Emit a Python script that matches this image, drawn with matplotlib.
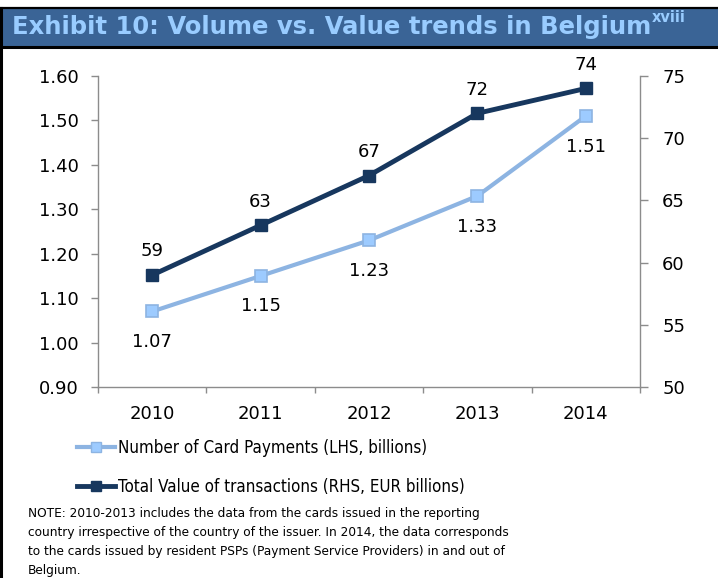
import matplotlib
matplotlib.use("Agg")
import matplotlib.pyplot as plt
from matplotlib import font_manager as fm
from matplotlib.lines import Line2D
from matplotlib.patches import Rectangle

# ---- data ----
years = ["2010", "2011", "2012", "2013", "2014"]
card_payments = [1.07, 1.15, 1.23, 1.33, 1.51]      # LHS, billions
transaction_value = [59, 63, 67, 72, 74]            # RHS, EUR billions
left_ticks = [0.90, 1.00, 1.10, 1.20, 1.30, 1.40, 1.50, 1.60]
right_ticks = [50, 55, 60, 65, 70, 75]

title_main = "Exhibit 10: Volume vs. Value trends in Belgium"
title_sup = "xviii"
series_names = ["Number of Card Payments (LHS, billions)",
                "Total Value of transactions (RHS, EUR billions)"]
note_lines = [
    "NOTE: 2010-2013 includes the data from the cards issued in the reporting",
    "country irrespective of the country of the issuer. In 2014, the data corresponds",
    "to the cards issued by resident PSPs (Payment Service Providers) in and out of",
    "Belgium.",
]

# ---- styling ----
W, H = 718, 578
DARK = "#17375E"
LIGHT = "#8DB4E2"
LIGHT_FILL = "#9DCBFF"
AXIS = "#8C8C8C"
BAND = "#3A6496"
TITLE_TXT = "#99CCFF"

names = {f.name for f in fm.fontManager.ttflist}
if "Liberation Sans Narrow" in names:
    narrow = dict(family="Liberation Sans Narrow")
else:
    narrow = dict(family="DejaVu Sans", stretch="condensed")

plt.rcParams["font.family"] = ["DejaVu Sans"]

fig = plt.figure(figsize=(W / 100, H / 100), dpi=100)


def fx(px):
    return px / W


def fy(py):
    return 1 - py / H


# title band and frame
fig.patches.append(Rectangle((0, fy(46)), 1, fy(9) - fy(46), transform=fig.transFigure,
                             facecolor=BAND, edgecolor="none", zorder=0))
fig.add_artist(Line2D([0, 1], [fy(8), fy(8)], color="black", lw=1.6, transform=fig.transFigure))
fig.add_artist(Line2D([0, 1], [fy(46.5), fy(46.5)], color="black", lw=2.2, transform=fig.transFigure))
fig.add_artist(Line2D([fx(1), fx(1)], [0, fy(8)], color="black", lw=2.2, transform=fig.transFigure))

t = fig.text(fx(12), fy(27), title_main, color=TITLE_TXT, fontsize=17.5,
             fontweight="bold", va="center", ha="left")
fig.canvas.draw()
bb = t.get_window_extent()
fig.text(bb.x1 / W + fx(1), fy(18), title_sup, color=TITLE_TXT, fontsize=10.5,
         fontweight="bold", va="center", ha="left")

# ---- axes ----
ax = fig.add_axes([fx(98), fy(387), fx(640) - fx(98), fy(76) - fy(387)])
ax2 = ax.twinx()
x = list(range(len(years)))

ax.plot(x, card_payments, color=LIGHT, lw=3.0, marker="s", markersize=8,
        markerfacecolor=LIGHT_FILL, markeredgecolor=LIGHT, markeredgewidth=1.2,
        zorder=3)
ax2.plot(x, transaction_value, color=DARK, lw=3.5, marker="s", markersize=8,
         markerfacecolor=DARK, markeredgecolor=DARK, zorder=3)

ax.set_xlim(-0.5, len(years) - 0.5)
ax.set_ylim(left_ticks[0], left_ticks[-1])
ax2.set_ylim(right_ticks[0], right_ticks[-1])

ax.set_yticks(left_ticks)
ax.set_yticklabels([f"{v:.2f}" for v in left_ticks])
ax2.set_yticks(right_ticks)
ax2.set_yticklabels([f"{v}" for v in right_ticks])
ax.set_xticks(x)
ax.set_xticklabels(years)
ax.set_xticks([i - 0.5 for i in range(len(years) + 1)], minor=True)

for a in (ax, ax2):
    for s in a.spines.values():
        s.set_color(AXIS)
        s.set_linewidth(1.0)
    a.spines["top"].set_visible(False)
    a.set_facecolor("none")

ax.tick_params(axis="x", which="major", length=0, pad=13, labelsize=13)
ax.tick_params(axis="x", which="minor", length=4, width=1.0, color=AXIS, direction="out")
ax.tick_params(axis="y", length=5, width=1.0, color=AXIS, pad=9, labelsize=13)
ax2.tick_params(axis="y", length=6, width=1.0, color=AXIS, pad=10, labelsize=13)
ax.spines["right"].set_visible(False)
ax2.spines["left"].set_visible(False)
ax2.spines["bottom"].set_visible(False)

# data labels
for xi, v in zip(x, card_payments):
    ax.annotate(f"{v:.2f}", (xi, v), xytext=(0, -22), textcoords="offset points",
                ha="center", va="center", fontsize=13)
for xi, v in zip(x, transaction_value):
    ax2.annotate(f"{v:.0f}", (xi, v), xytext=(0, 17), textcoords="offset points",
                 ha="center", va="center", fontsize=13)

# legend
handles = [
    Line2D([], [], color=LIGHT, lw=3.0, marker="s", markersize=7,
           markerfacecolor=LIGHT_FILL, markeredgecolor=LIGHT),
    Line2D([], [], color=DARK, lw=3.5, marker="s", markersize=7,
           markerfacecolor=DARK, markeredgecolor=DARK),
]
leg = fig.legend(handles, series_names, loc="upper left",
                 bbox_to_anchor=(fx(77), fy(439)), frameon=False,
                 prop=dict(size=12.2, **narrow), handlelength=2.25,
                 handletextpad=0.15, labelspacing=1.25, borderpad=0, borderaxespad=0)

# note
for i, line in enumerate(note_lines):
    fig.text(fx(28), fy(513 + 19.2 * i), line, fontsize=9.7, va="center", ha="left",
             **narrow)

fig.savefig("out.png", dpi=100)
